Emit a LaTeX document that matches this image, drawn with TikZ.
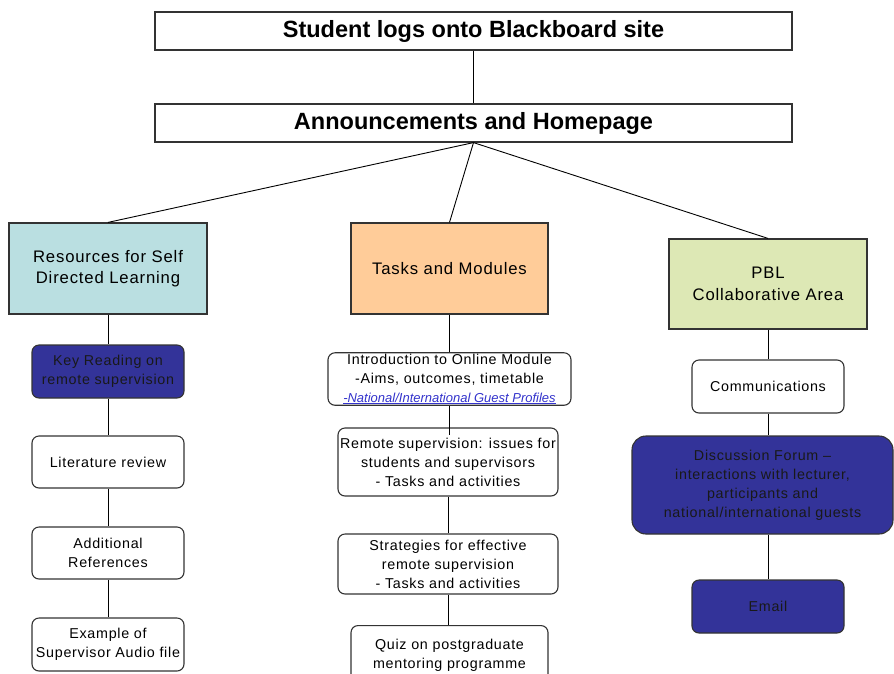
\documentclass[tikz,border=0pt]{standalone}
\usepackage{fontspec}
\setmainfont{Liberation Sans}
\newfontfamily\trackfont{Liberation Sans}[LetterSpace=5]

\definecolor{resblue}{HTML}{BADFE1}
\definecolor{taskorange}{HTML}{FFCC99}
\definecolor{pblgreen}{HTML}{DDE8B5}
\definecolor{navy}{HTML}{333399}
\definecolor{linkblue}{HTML}{3333CC}

\tikzset{
	topbox/.style={draw=black!80,line width=1.2pt,fill=white,minimum width=637pt,minimum height=38pt,font=\bfseries\fontsize{23.5}{28}\selectfont},
	areabox/.style={draw=black!80,line width=1.2pt,minimum width=198pt,minimum height=91pt,align=center,font=\trackfont\fontsize{16.7}{21.5}\selectfont},
	itembox/.style={draw=black!80,line width=1.1pt,rounded corners=7pt,fill=white,minimum width=152pt,minimum height=53pt,inner sep=1pt,align=center,font=\trackfont\fontsize{14.3}{19}\selectfont},
	darkbox/.style={itembox,fill=navy,text=black!90},
	link/.style={draw=black,line width=0.9pt}
}

\begin{document}
\begin{tikzpicture}[x=1pt,y=-1pt]
				\useasboundingbox (0,0) rectangle (894,673);
				% top of the site
				\node[topbox] (top) at (473.5,31) {Student logs onto Blackboard site};
				\node[topbox] (home) at (473.5,123) {Announcements and Homepage};
				% the three areas
				\node[areabox,fill=resblue] (res) at (108,268.5) {Resources for Self\\Directed Learning};
				\node[areabox,fill=taskorange,minimum width=197pt] (tasks) at (449.5,268.5) {Tasks and Modules};
				\node[areabox,fill=pblgreen,minimum height=90pt] (pbl) at (768,284) {PBL\\Collaborative Area};
				% resources column
				\node[darkbox] (key) at (108,371.5) {Key Reading on\\remote supervision};
				\node[itembox,minimum height=52pt] (lit) at (108,462) {Literature review};
				\node[itembox,minimum height=52pt] (addref) at (108,553) {Additional\\References};
				\node[itembox] (audio) at (108,644.5) {Example of\\Supervisor Audio file};
				% tasks column
				\node[itembox,minimum width=243pt,minimum height=52pt] (intro) at (449.5,379) {Introduction to Online Module\\-Aims, outcomes, timetable\\{\normalfont\fontsize{13}{15}\selectfont\itshape\color{linkblue}\underline{-National/International Guest Profiles}}};
				\node[itembox,minimum width=220pt,minimum height=68pt] (remote) at (448,462) {Remote supervision: issues for\\students and supervisors\\- Tasks and activities};
				\node[itembox,minimum width=220pt,minimum height=60pt] (strat) at (448,564) {Strategies for effective\\remote supervision\\- Tasks and activities};
				\node[itembox,minimum width=197pt,minimum height=60pt,anchor=north] (quiz) at (449.5,625) {Quiz on postgraduate\\mentoring programme};
				% pbl column
				\node[itembox,text depth=-2pt] (comm) at (768,386.5) {Communications};
				\node[darkbox,rounded corners=14pt,minimum width=261pt,minimum height=98pt] (forum) at (762.5,485) {Discussion Forum –\\interactions with lecturer,\\participants and\\national/international guests};
				\node[darkbox] (email) at (768,606.5) {Email};
				% connectors
				\draw[link] (top) -- (home);
				\foreach \area in {res,tasks,pbl}
					\draw[link] (home.south) -- (\area.north);
				\foreach \from/\to in {res/key,key/lit,lit/addref,addref/audio,tasks/intro,remote/strat,strat/quiz,pbl/comm,comm/forum}
					\draw[link] (\from.south) -- (\from.south |- \to.north);
				\draw[link] (intro.south) -- ([yshift=-8pt]intro.south |- remote.north);
				\draw[link] (email.north |- forum.south) -- (email.north);
			\end{tikzpicture}
\end{document}
